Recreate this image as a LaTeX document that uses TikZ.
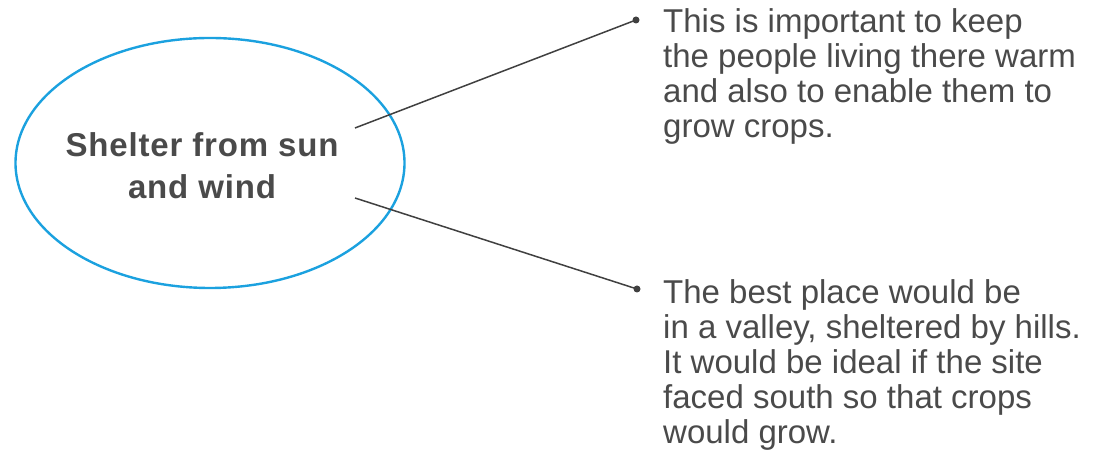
\documentclass[tikz,border=0pt]{standalone}
\usepackage{fontspec}
\setmainfont{Liberation Sans}
\newfontfamily\titlefont[LetterSpace=2.5]{Liberation Sans}
\usetikzlibrary{shapes.geometric}
\definecolor{txt}{HTML}{4A4A4A}
\definecolor{ln}{HTML}{404040}
\definecolor{ell}{HTML}{1BA1DF}
\tikzset{
  bubble/.style={ellipse, draw=ell, line width=2.4pt, minimum width=389pt, minimum height=250pt, inner sep=0pt},
  titletext/.style={text=txt, font=\titlefont\bfseries\fontsize{33}{42}\selectfont, align=center, inner sep=0pt},
  bodytext/.style={text=txt, font=\fontsize{33}{35.2}\selectfont, align=left, inner sep=0pt, anchor=north west},
  dotend/.style={circle, fill=ln, minimum size=7pt, inner sep=0pt},
  conn/.style={draw=ln, line width=1.5pt}
}
\begin{document}
\begin{tikzpicture}[x=1pt,y=1pt]
\useasboundingbox (0,0) rectangle (1095,470);
\node[bubble] (ellipse) at (210,307) {};
\node[titletext, anchor=north] (title) at (202,338) {Shelter from sun\\and wind};
\coordinate (s1) at (355,342);
\coordinate (s2) at (355,272);
\node[dotend] (d1) at (636,450) {};
\node[dotend] (d2) at (637,181) {};
\draw[conn] (s1) -- (d1.center);
\draw[conn] (s2) -- (d2.center);
\node[bodytext] (t1) at (663,462) {This is important to keep\\the people living there warm\\and also to enable them to\\grow crops.};
\node[bodytext] (t2) at (663,191) {The best place would be\\in a valley, sheltered by hills.\\It would be ideal if the site\\faced south so that crops\\would grow.};
\end{tikzpicture}
\end{document}
